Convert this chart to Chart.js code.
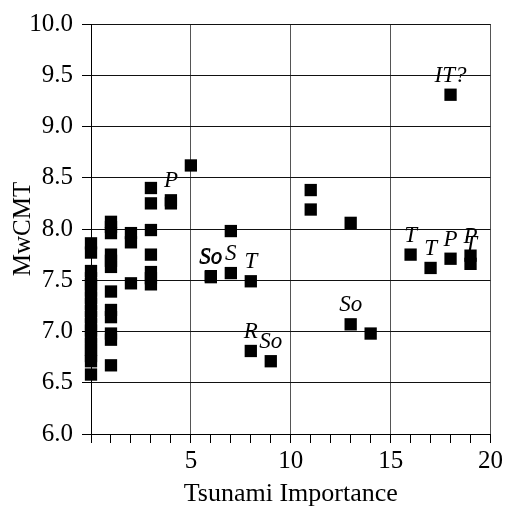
<!DOCTYPE html>
<html>
<head>
<meta charset="utf-8">
<script src="https://cdn.jsdelivr.net/npm/chart.js@4/dist/chart.umd.min.js"></script>
<style>
  html, body { margin: 0; padding: 0; background: #fff; }
  #wrap { width: 506px; height: 510px; }
  .pre { font-family: "Liberation Serif"; position: absolute; left: -1000px; }
</style>
</head>
<body>
<span class="pre">Tsunami <i>So</i></span>
<div id="wrap"><canvas id="c" width="506" height="510"></canvas></div>
<script>
// Tsunami importance (x) vs MwCMT (y), with optional italic tag per event
const importance = [
  0, 0, 0, 0, 0, 0, 0, 0, 0, 0, 0, 0, 0, 0, 0, 0, 0, 0,
  1, 1, 1, 1, 1, 1, 1, 1, 1, 1, 1, 1,
  2, 2, 2,
  3, 3, 3, 3, 3, 3, 3,
  4, 4,
  5,
  6, 6,
  7, 7,
  8, 8,
  9,
  11, 11,
  13, 13,
  14,
  16,
  17,
  18, 18,
  19, 19
];
const mwCMT = [
  7.86, 7.77, 7.59, 7.52, 7.46, 7.40, 7.33, 7.27, 7.20, 7.14, 7.07, 7.01, 6.94, 6.88, 6.82, 6.76, 6.71, 6.58,
  8.07, 8.02, 7.96, 7.75, 7.69, 7.63, 7.39, 7.21, 7.14, 6.98, 6.92, 6.67,
  7.96, 7.87, 7.47,
  8.40, 8.25, 7.99, 7.75, 7.58, 7.52, 7.46,
  8.28, 8.25,
  8.62,
  7.54, 7.53,
  7.98, 7.57,
  7.49, 6.81,
  6.71,
  8.38, 8.19,
  8.06, 7.07,
  6.98,
  7.75,
  7.62,
  9.31, 7.71,
  7.74, 7.66
];
const tags = [
  '', '', '', '', '', '', '', '', '', '', '', '', '', '', '', '', '', '',
  '', '', '', '', '', '', '', '', '', '', '', '',
  '', '', '',
  '', '', '', '', '', '', '',
  'P', '',
  '',
  'So', 'So',
  '', 'S',
  'T', 'R',
  'So',
  '', '',
  '', 'So',
  '',
  'T',
  'T',
  'IT?', 'P',
  'P', 'T'
];
const xTickLabels = [5, 10, 15, 20];
const yTickLabels = ['6.0', '6.5', '7.0', '7.5', '8.0', '8.5', '9.0', '9.5', '10.0'];

const FONT = '"Liberation Serif", serif';

function draw() {
  const points = importance.map((x, i) => ({ x: x, y: mwCMT[i] }));
  const tagPlugin = {
    id: 'tags',
    afterDatasetsDraw(chart) {
      const ctx = chart.ctx;
      const xs = chart.scales.x, ys = chart.scales.y;
      ctx.save();
      ctx.font = 'italic 23px ' + FONT;
      ctx.fillStyle = '#000';
      ctx.textAlign = 'center';
      ctx.textBaseline = 'alphabetic';
      tags.forEach((t, i) => {
        if (!t) return;
        const px = xs.getPixelForValue(importance[i]);
        const py = ys.getPixelForValue(mwCMT[i]);
        ctx.fillText(t, px, py - 13);
      });
      ctx.restore();
    }
  };

  new Chart(document.getElementById('c'), {
    type: 'scatter',
    data: {
      datasets: [{
        data: points,
        clip: false,
        pointStyle: 'rect',
        pointRadius: 8.7,
        pointHoverRadius: 8.7,
        pointBackgroundColor: '#000',
        pointBorderColor: '#000',
        pointBorderWidth: 0
      }]
    },
    options: {
      responsive: false,
      animation: false,
      layout: { padding: { left: 0, right: 15, top: 15, bottom: 0 } },
      plugins: { legend: { display: false }, tooltip: { enabled: false } },
      scales: {
        x: {
          type: 'linear', min: 0, max: 20,
          ticks: {
            stepSize: 1, autoSkip: false, maxRotation: 0, padding: 3,
            color: '#000', font: { family: FONT, size: 25 },
            callback: v => xTickLabels.includes(v) ? String(v) : ''
          },
          grid: {
            color: c => (c.tick && xTickLabels.includes(c.tick.value)) ? '#555' : 'rgba(0,0,0,0)',
            tickColor: '#000', tickLength: 9, drawTicks: true, lineWidth: 1
          },
          border: { color: '#000', width: 1 },
          title: { display: true, text: 'Tsunami Importance', color: '#000', font: { family: FONT, size: 26 }, padding: { top: 0, bottom: 0 } },
          afterFit: s => { s.height = 76; }
        },
        y: {
          type: 'linear', min: 6, max: 10,
          ticks: {
            stepSize: 0.5, padding: 9, color: '#000', font: { family: FONT, size: 25 },
            callback: v => yTickLabels.includes(v.toFixed(1)) ? v.toFixed(1) : ''
          },
          grid: { color: '#111', tickColor: '#000', tickLength: 9, lineWidth: 1 },
          border: { color: '#000', width: 1 },
          title: { display: true, text: 'MwCMT', color: '#000', font: { family: FONT, size: 25 }, padding: { top: 8, bottom: 0 } },
          afterFit: s => { s.width = 91; }
        }
      }
    },
    plugins: [tagPlugin]
  });
}

Promise.all([
  document.fonts.load('24px "Liberation Serif"'),
  document.fonts.load('italic 22px "Liberation Serif"')
]).then(draw, draw);
</script>
</body>
</html>
